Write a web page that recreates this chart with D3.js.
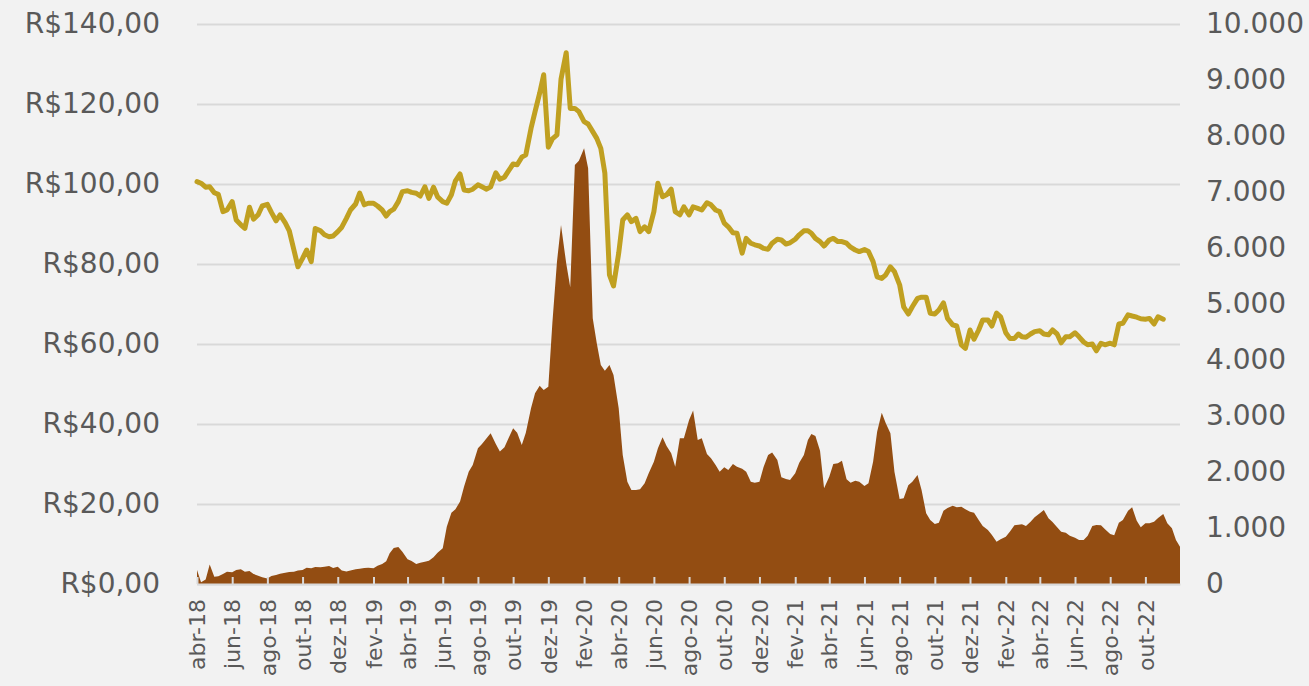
<!DOCTYPE html>
<html>
<head>
<meta charset="utf-8">
<script src="https://cdn.jsdelivr.net/npm/d3@7"></script>
<style>
  body { margin: 0; background: #f2f2f2; }
  svg { display: block; }
  .axis text { font-family: "DejaVu Sans", sans-serif; fill: #595959; }
</style>
</head>
<body>
<div id="chart"></div>
<script>
// weekly-ish samples (1st, 8th, 16th, 23rd of each month)
const dates = [
  "2018-04-01","2018-04-08","2018-04-16","2018-04-23",
  "2018-05-01","2018-05-08","2018-05-16","2018-05-23",
  "2018-06-01","2018-06-08","2018-06-16","2018-06-23",
  "2018-07-01","2018-07-08","2018-07-16","2018-07-23",
  "2018-08-01","2018-08-08","2018-08-16","2018-08-23",
  "2018-09-01","2018-09-08","2018-09-16","2018-09-23",
  "2018-10-01","2018-10-08","2018-10-16","2018-10-23",
  "2018-11-01","2018-11-08","2018-11-16","2018-11-23",
  "2018-12-01","2018-12-08","2018-12-16","2018-12-23",
  "2019-01-01","2019-01-08","2019-01-16","2019-01-23",
  "2019-02-01","2019-02-08","2019-02-16","2019-02-23",
  "2019-03-01","2019-03-08","2019-03-16","2019-03-23",
  "2019-04-01","2019-04-08","2019-04-16","2019-04-23",
  "2019-05-01","2019-05-08","2019-05-16","2019-05-23",
  "2019-06-01","2019-06-08","2019-06-16","2019-06-23",
  "2019-07-01","2019-07-08","2019-07-16","2019-07-23",
  "2019-08-01","2019-08-08","2019-08-16","2019-08-23",
  "2019-09-01","2019-09-08","2019-09-16","2019-09-23",
  "2019-10-01","2019-10-08","2019-10-16","2019-10-23",
  "2019-11-01","2019-11-08","2019-11-16","2019-11-23",
  "2019-12-01","2019-12-08","2019-12-16","2019-12-23",
  "2020-01-01","2020-01-08","2020-01-16","2020-01-23",
  "2020-02-01","2020-02-08","2020-02-16","2020-02-23",
  "2020-03-01","2020-03-08","2020-03-16","2020-03-23",
  "2020-04-01","2020-04-08","2020-04-16","2020-04-23",
  "2020-05-01","2020-05-08","2020-05-16","2020-05-23",
  "2020-06-01","2020-06-08","2020-06-16","2020-06-23",
  "2020-07-01","2020-07-08","2020-07-16","2020-07-23",
  "2020-08-01","2020-08-08","2020-08-16","2020-08-23",
  "2020-09-01","2020-09-08","2020-09-16","2020-09-23",
  "2020-10-01","2020-10-08","2020-10-16","2020-10-23",
  "2020-11-01","2020-11-08","2020-11-16","2020-11-23",
  "2020-12-01","2020-12-08","2020-12-16","2020-12-23",
  "2021-01-01","2021-01-08","2021-01-16","2021-01-23",
  "2021-02-01","2021-02-08","2021-02-16","2021-02-23",
  "2021-03-01","2021-03-08","2021-03-16","2021-03-23",
  "2021-04-01","2021-04-08","2021-04-16","2021-04-23",
  "2021-05-01","2021-05-08","2021-05-16","2021-05-23",
  "2021-06-01","2021-06-08","2021-06-16","2021-06-23",
  "2021-07-01","2021-07-08","2021-07-16","2021-07-23",
  "2021-08-01","2021-08-08","2021-08-16","2021-08-23",
  "2021-09-01","2021-09-08","2021-09-16","2021-09-23",
  "2021-10-01","2021-10-08","2021-10-16","2021-10-23",
  "2021-11-01","2021-11-08","2021-11-16","2021-11-23",
  "2021-12-01","2021-12-08","2021-12-16","2021-12-23",
  "2022-01-01","2022-01-08","2022-01-16","2022-01-23",
  "2022-02-01","2022-02-08","2022-02-16","2022-02-23",
  "2022-03-01","2022-03-08","2022-03-16","2022-03-23",
  "2022-04-01","2022-04-08","2022-04-16","2022-04-23",
  "2022-05-01","2022-05-08","2022-05-16","2022-05-23",
  "2022-06-01","2022-06-08","2022-06-16","2022-06-23",
  "2022-07-01","2022-07-08","2022-07-16","2022-07-23",
  "2022-08-01","2022-08-08","2022-08-16","2022-08-23",
  "2022-09-01","2022-09-08","2022-09-16","2022-09-23",
  "2022-10-01","2022-10-08","2022-10-16","2022-10-23",
  "2022-11-01","2022-11-08","2022-11-16","2022-11-23",
  "2022-11-30"
];

// price, R$ (left axis)
const price = [
  100.6, 100.2, 99.2, 99.3,
  97.8, 97.4, 93.1, 93.5,
  95.6, 91.0, 89.8, 88.9,
  94.2, 91.2, 92.3, 94.5,
  94.9, 92.9, 90.8, 92.3,
  90.3, 88.3, 83.5, 79.3,
  81.4, 83.5, 80.6, 88.9,
  88.3, 87.3, 86.8, 87.0,
  88.1, 89.2, 91.4, 93.5,
  95.0, 97.7, 94.8, 95.2,
  95.2, 94.5, 93.5, 92.0,
  93.1, 93.7, 95.6, 98.1,
  98.3, 97.9, 97.7, 97.0,
  99.3, 96.4, 99.2, 96.8,
  95.6, 95.2, 97.3, 100.8,
  102.5, 98.5, 98.3, 98.7,
  99.8, 99.3, 98.7, 99.3,
  102.8, 101.2, 101.7, 103.3,
  105.0, 104.8, 106.7, 107.3,
  113.9, 118.1, 122.7, 127.3,
  109.2, 111.3, 112.3, 126.2,
  132.8, 118.9, 118.9, 118.1,
  115.6, 115.0, 113.1, 111.4,
  108.9, 102.7, 77.3, 74.5,
  82.7, 91.0, 92.3, 90.6,
  91.4, 88.1, 89.3, 88.1,
  93.1, 100.2, 96.8, 97.3,
  98.7, 93.1, 92.3, 94.3,
  92.3, 94.3, 93.9, 93.5,
  95.3, 94.8, 93.5, 93.1,
  90.2, 89.3, 87.8, 87.7,
  82.7, 86.4, 85.2, 84.8,
  84.5, 83.9, 83.7, 85.2,
  86.2, 86.0, 85.0, 85.3,
  86.2, 87.3, 88.3, 88.3,
  87.7, 86.4, 85.6, 84.5,
  86.0, 86.4, 85.6, 85.6,
  85.2, 84.2, 83.5, 83.1,
  83.6, 83.1, 80.6, 76.8,
  76.4, 77.3, 79.3, 78.1,
  74.8, 69.3, 67.5, 69.3,
  71.4, 71.7, 71.7, 67.7,
  67.5, 68.5, 70.3, 66.4,
  64.8, 64.5, 59.8, 58.9,
  63.5, 61.2, 63.5, 66.0,
  66.0, 64.5, 67.7, 66.8,
  62.8, 61.4, 61.4, 62.5,
  61.8, 61.7, 62.5, 63.1,
  63.3, 62.5, 62.3, 63.5,
  62.5, 60.3, 61.8, 61.8,
  62.8, 61.8, 60.5, 59.8,
  60.0, 58.3, 60.2, 59.8,
  60.2, 59.8, 65.0, 65.2,
  67.3, 67.0, 66.7, 66.3,
  66.2, 66.4, 65.0, 66.8,
  66.2, null, null, null,
  null
];

// volume (right axis)
const volume = [
  250, 30, 80, 350,
  131, 137, 179, 220,
  209, 250, 262, 220,
  233, 179, 149, 120,
  96, 143, 161, 185,
  203, 215, 220, 239,
  250, 292, 280, 304,
  298, 310, 322, 286,
  310, 239, 221, 239,
  262, 274, 286, 292,
  280, 328, 358, 405,
  548, 643, 661, 578,
  441, 411, 358, 381,
  399, 417, 477, 560,
  637, 1024, 1274, 1334,
  1471, 1739, 2006, 2125,
  2423, 2500, 2602, 2690,
  2500, 2364, 2441, 2602,
  2780, 2703, 2483, 2700,
  3137, 3405, 3542, 3464,
  3524, 4655, 5756, 6411,
  5726, 5300, 7482, 7559,
  7780, 7423, 4744, 4298,
  3911, 3810, 3911, 3732,
  3137, 2304, 1828, 1679,
  1679, 1691, 1798, 1976,
  2185, 2423, 2619, 2464,
  2334, 2095, 2601, 2601,
  2929, 3100, 2572, 2601,
  2322, 2244, 2125, 2006,
  2083, 2036, 2143, 2095,
  2060, 2006, 1828, 1810,
  1828, 2083, 2304, 2346,
  2214, 1905, 1875, 1857,
  1976, 2167, 2304, 2572,
  2679, 2643, 2381, 1709,
  1917, 2143, 2155, 2203,
  1869, 1810, 1845, 1828,
  1750, 1798, 2184, 2720,
  3059, 2869, 2690, 2006,
  1518, 1530, 1762, 1827,
  1946, 1678, 1262, 1143,
  1071, 1095, 1309, 1357,
  1399, 1369, 1381, 1333,
  1292, 1274, 1143, 1036,
  964, 875, 756, 798,
  845, 934, 1048, 1059,
  1065, 1036, 1113, 1190,
  1262, 1321, 1172, 1107,
  1012, 934, 917, 863,
  827, 786, 786, 863,
  1036, 1053, 1048, 976,
  893, 869, 1095, 1143,
  1309, 1369, 1131, 1012,
  1083, 1083, 1113, 1178,
  1250, 1083, 994, 786,
  667
];

const priceTicks = [0, 20, 40, 60, 80, 100, 120, 140];
const volumeTicks = [0, 1000, 2000, 3000, 4000, 5000, 6000, 7000, 8000, 9000, 10000];
const monthNames = ["jan", "fev", "mar", "abr", "mai", "jun", "jul", "ago", "set", "out", "nov", "dez"];

const width = 1309, height = 686;
const plot = { left: 197, right: 1180, top: 24, bottom: 584 };

const parse = d3.timeParse("%Y-%m-%d");
const data = dates.map((d, i) => ({ date: parse(d), price: price[i], volume: volume[i] }));

const svg = d3.select("#chart").append("svg")
  .attr("width", width)
  .attr("height", height);

svg.append("rect").attr("width", width).attr("height", height).attr("fill", "#f2f2f2");

const x = d3.scaleTime()
  .domain(d3.extent(data, d => d.date))
  .range([plot.left, plot.right]);

const yL = d3.scaleLinear().domain([0, 140]).range([plot.bottom, plot.top]);
const yR = d3.scaleLinear().domain([0, 10000]).range([plot.bottom, plot.top]);

// left axis + gridlines
const money = v => "R$" + v.toFixed(2).replace(".", ",");
const gLeft = svg.append("g")
  .attr("class", "axis")
  .attr("transform", `translate(${plot.left},0)`)
  .call(d3.axisLeft(yL)
    .tickValues(priceTicks)
    .tickFormat(money)
    .tickSize(-(plot.right - plot.left))
    .tickPadding(37));
gLeft.select(".domain").remove();
gLeft.selectAll(".tick line").attr("stroke", "#d9d9d9").attr("stroke-width", 2);
gLeft.selectAll(".tick text").attr("font-size", 28);

// right axis
const ptBR = d3.formatLocale({ decimal: ",", thousands: ".", grouping: [3], currency: ["R$", ""] });
const gRight = svg.append("g")
  .attr("class", "axis")
  .attr("transform", `translate(${plot.right},0)`)
  .call(d3.axisRight(yR)
    .tickValues(volumeTicks)
    .tickFormat(ptBR.format(",d"))
    .tickSize(0)
    .tickPadding(26));
gRight.select(".domain").remove();
gRight.selectAll(".tick text").attr("font-size", 28);

// volume area
svg.append("path")
  .datum(data)
  .attr("fill", "#934d12")
  .attr("d", d3.area()
    .x(d => x(d.date))
    .y0(yR(0))
    .y1(d => yR(d.volume)));

// bottom axis
const tickDates = d3.timeMonth.range(new Date(2018, 3, 1), new Date(2022, 10, 2), 2);
const gBottom = svg.append("g")
  .attr("class", "axis")
  .attr("transform", `translate(0,${plot.bottom})`)
  .call(d3.axisBottom(x)
    .tickValues(tickDates)
    .tickFormat(d => monthNames[d.getMonth()] + "-" + String(d.getFullYear()).slice(2))
    .tickSize(-7)
    .tickSizeOuter(0));
gBottom.select(".domain").attr("stroke", "#d9d9d9").attr("stroke-width", 2);
gBottom.selectAll(".tick line").attr("stroke", "#d9d9d9").attr("stroke-width", 2);
gBottom.selectAll(".tick text")
  .attr("font-size", 22)
  .attr("transform", "rotate(-90)")
  .attr("text-anchor", "end")
  .attr("x", -15)
  .attr("y", 0)
  .attr("dy", "0.35em");

// price line
svg.append("path")
  .datum(data)
  .attr("fill", "none")
  .attr("stroke", "#c0a021")
  .attr("stroke-width", 5)
  .attr("stroke-linejoin", "round")
  .attr("stroke-linecap", "round")
  .attr("d", d3.line()
    .defined(d => d.price != null)
    .x(d => x(d.date))
    .y(d => yL(d.price)));
</script>
</body>
</html>
